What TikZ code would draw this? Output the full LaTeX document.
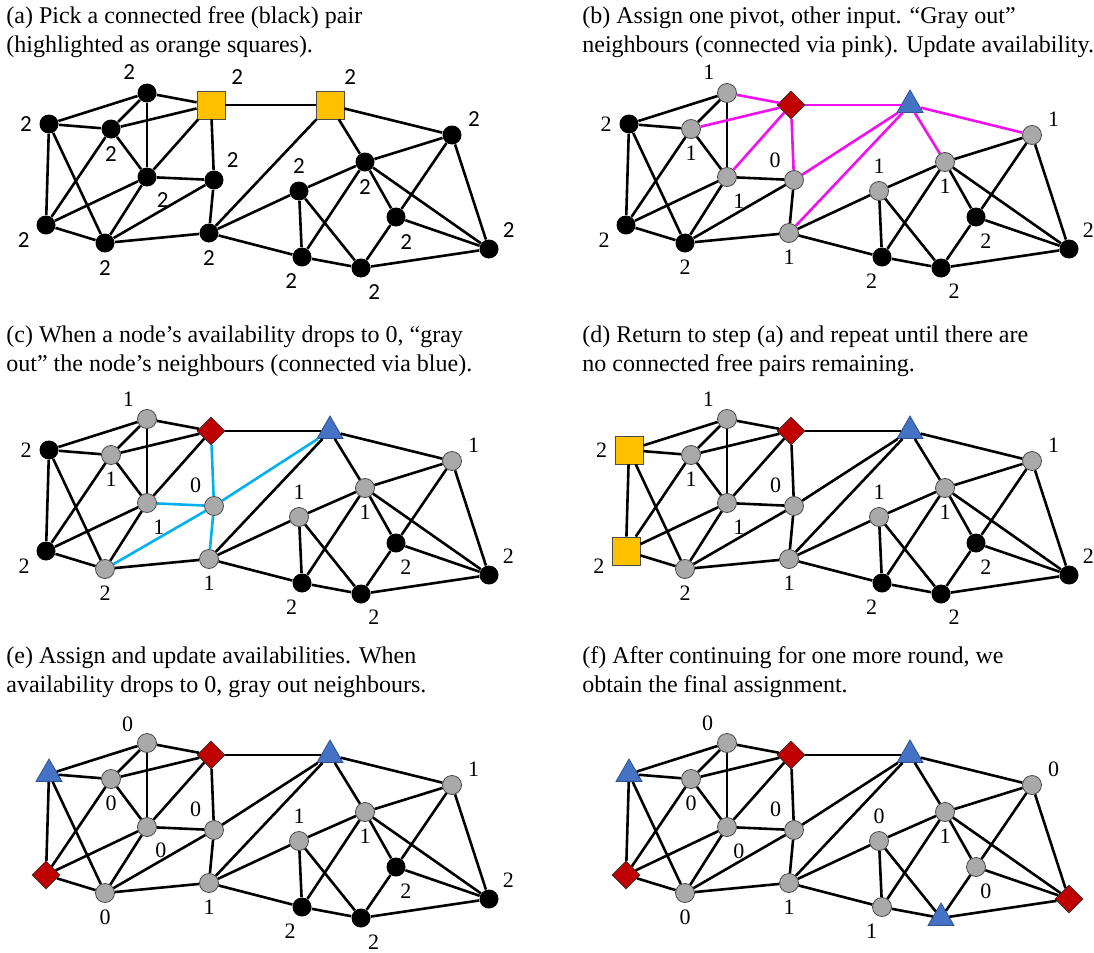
\documentclass[tikz,border=0pt]{standalone}
\usepackage{fontspec}
\setmainfont{Liberation Serif}
\newfontfamily\sansnum{Carlito}
\usetikzlibrary{shapes.geometric}

\definecolor{pairorange}{HTML}{FFC000}
\definecolor{pivotred}{HTML}{C00000}
\definecolor{inputblue}{HTML}{4472C4}
\definecolor{inputrim}{HTML}{2F528F}
\definecolor{usedgray}{HTML}{A9A9A9}
\definecolor{pinkline}{HTML}{F010F0}
\definecolor{blueline}{HTML}{00B0F0}

\tikzset{
    vtx/.style={circle, inner sep=0pt, minimum size=9.5pt},
    free/.style={vtx, fill=black},
    used/.style={vtx, fill=usedgray, draw=black!70, line width=0.4pt},
    pair/.style={rectangle, inner sep=0pt, minimum size=14pt, fill=pairorange, draw=black!70, line width=0.4pt},
    pivot/.style={diamond, inner sep=0pt, minimum size=14pt, fill=pivotred, draw=black!80, line width=0.4pt},
    input/.style={regular polygon, regular polygon sides=3, inner sep=0pt, minimum size=15pt, fill=inputblue, draw=inputrim, line width=0.4pt},
    link/.style={line width=1.3pt},
    pinklink/.style={link, draw=pinkline},
    bluelink/.style={link, draw=blueline},
    num/.style={font=\fontsize{11}{13}\selectfont, inner sep=1pt},
    every label/.style={num},
    label distance=2.5pt,
    caption/.style={anchor=north west, align=left, inner sep=0pt, font=\fontsize{12}{14.5}\selectfont}
}

% where the vertices sit inside one panel
\newcommand\layout[1]{%
    \coordinate (#1A) at (49,124);
    \coordinate (#1B) at (147,93);
    \coordinate (#1C) at (111,129);
    \coordinate (#1D) at (211,105);
    \coordinate (#1E) at (330,105);
    \coordinate (#1F) at (147,177);
    \coordinate (#1G) at (214,180);
    \coordinate (#1H) at (46,225);
    \coordinate (#1I) at (105,243);
    \coordinate (#1J) at (209,233);
    \coordinate (#1K) at (299,191);
    \coordinate (#1L) at (365,162);
    \coordinate (#1M) at (452,135);
    \coordinate (#1N) at (396,217);
    \coordinate (#1O) at (302,257);
    \coordinate (#1P) at (361,268);
    \coordinate (#1Q) at (489,249);
}

\def\firstlinks{A/B,A/C,A/H,A/I,B/C,B/D,B/F,C/D,C/F,C/H,D/E,D/F,D/G,E/J,E/L,E/M,F/G,F/H,F/I,G/I,G/J,H/I,I/J,J/K,J/O,K/L,K/O,K/P,L/M,L/N,L/O,L/Q,M/N,M/Q,N/P,N/Q,O/P,P/Q}
\edef\alllinks{\firstlinks,E/G}

\newcommand\links[2]{%
    \foreach \u/\v in #2
        \draw[link, e\u\v/.try] (#1\u) -- (#1\v);
}

\begin{document}
\begin{tikzpicture}[x=0.5pt, y=-0.5pt]
        \path[use as bounding box, fill=white] (0,0) rectangle (1094,953);

        \node[caption] (capa) at (6,6) {(a) Pick a connected free (black) pair\\(highlighted as orange squares).};
        \node[caption] (capb) at (582,6) {(b) Assign one pivot, other input. “Gray out”\\neighbours (connected via pink). Update availability.};
        \node[caption] (capc) at (6,325) {(c) When a node’s availability drops to 0, “gray\\out” the node’s neighbours (connected via blue).};
        \node[caption] (capd) at (582,325) {(d) Return to step (a) and repeat until there are\\no connected free pairs remaining.};
        \node[caption] (cape) at (6,646) {(e) Assign and update availabilities. When\\availability drops to 0, gray out neighbours.};
        \node[caption] (capf) at (582,646) {(f) After continuing for one more round, we\\obtain the final assignment.};

        % (a)
        \begin{scope}[every label/.append style={font=\sansnum\fontsize{11.5}{13}\selectfont}]
            \layout{pa}
            \foreach \n/\s/\a/\l in {A/free/180/2, B/free/130/2, C/free/-90/2, D/pair/45/2, E/pair/57/2,
                F/free/-60/2, G/free/45/2, H/free/-160/2, I/free/-90/2, J/free/-90/2, K/free/90/2,
                L/free/-90/2, M/free/23/2, N/free/-82/2, O/free/-100/2, P/free/-70/2, Q/free/40/2}
                \node[\s, label={\a:\l}] (a\n) at (pa\n) {};
            \links{a}{\firstlinks}
        \end{scope}

        % (b)
        \begin{scope}[shift={(580,0)}, eBD/.style=pinklink, eCD/.style=pinklink, eDF/.style=pinklink,
                eDG/.style=pinklink, eDE/.style=pinklink, eEG/.style=pinklink, eEJ/.style=pinklink,
                eEL/.style=pinklink, eEM/.style=pinklink]
            \layout{pb}
            \foreach \n/\s/\a/\l in {A/free/180/2, B/used/133/1, C/used/-90/1, D/pivot/90/, E/input/90/,
                F/used/-75/1, G/used/138/0, H/free/-160/2, I/free/-90/2, J/used/-90/1, K/used/90/1,
                L/used/-90/1, M/used/23/1, N/free/-82/2, O/free/-100/2, P/free/-70/2, Q/free/40/2}
                \node[\s, label={\a:\l}] (b\n) at (pb\n) {};
            \links{b}{\alllinks}
        \end{scope}

        % (c)
        \begin{scope}[shift={(0,326)}, eDG/.style=bluelink, eEG/.style=bluelink, eFG/.style=bluelink,
                eGI/.style=bluelink, eGJ/.style=bluelink]
            \layout{pc}
            \foreach \n/\s/\a/\l in {A/free/180/2, B/used/136/1, C/used/-90/1, D/pivot/90/, E/input/90/,
                F/used/-75/1, G/used/135/0, H/free/-160/2, I/used/-90/2, J/used/-90/1, K/used/90/1,
                L/used/-90/1, M/used/23/1, N/free/-82/2, O/free/-100/2, P/free/-70/2, Q/free/40/2}
                \node[\s, label={\a:\l}] (c\n) at (pc\n) {};
            \links{c}{\alllinks}
        \end{scope}

        % (d)
        \begin{scope}[shift={(580,326)}]
            \layout{pd}
            \foreach \n/\s/\a/\l in {A/pair/180/2, B/used/136/1, C/used/-90/1, D/pivot/90/, E/input/90/,
                F/used/-75/1, G/used/135/0, H/pair/-165/2, I/used/-90/2, J/used/-90/1, K/used/90/1,
                L/used/-90/1, M/used/23/1, N/free/-82/2, O/free/-100/2, P/free/-70/2, Q/free/40/2}
                \node[\s, label={\a:\l}] (d\n) at (pd\n) {};
            \links{d}{\alllinks}
        \end{scope}

        % (e)
        \begin{scope}[shift={(0,650)}]
            \layout{pe}
            \foreach \n/\s/\a/\l in {A/input/90/, B/used/141/0, C/used/-90/0, D/pivot/90/, E/input/90/,
                F/used/-66/0, G/used/135/0, H/pivot/90/, I/used/-90/0, J/used/-90/1, K/used/90/1,
                L/used/-90/1, M/used/23/1, N/free/-82/2, O/free/-105/2, P/free/-72/2, Q/free/40/2}
                \node[\s, label={\a:\l}] (e\n) at (pe\n) {};
            \links{e}{\alllinks}
        \end{scope}

        % (f)
        \begin{scope}[shift={(580,650)}]
            \layout{pf}
            \foreach \n/\s/\a/\l in {A/input/90/, B/used/140/0, C/used/-90/0, D/pivot/90/, E/input/90/,
                F/used/-75/0, G/used/135/0, H/pivot/90/, I/used/-90/0, J/used/-90/1, K/used/90/0,
                L/used/-90/1, M/used/23/0, N/used/-82/0, O/used/-100/1, P/input/90/, Q/pivot/90/}
                \node[\s, label={\a:\l}] (f\n) at (pf\n) {};
            \links{f}{\alllinks}
        \end{scope}
\end{tikzpicture}
\end{document}
